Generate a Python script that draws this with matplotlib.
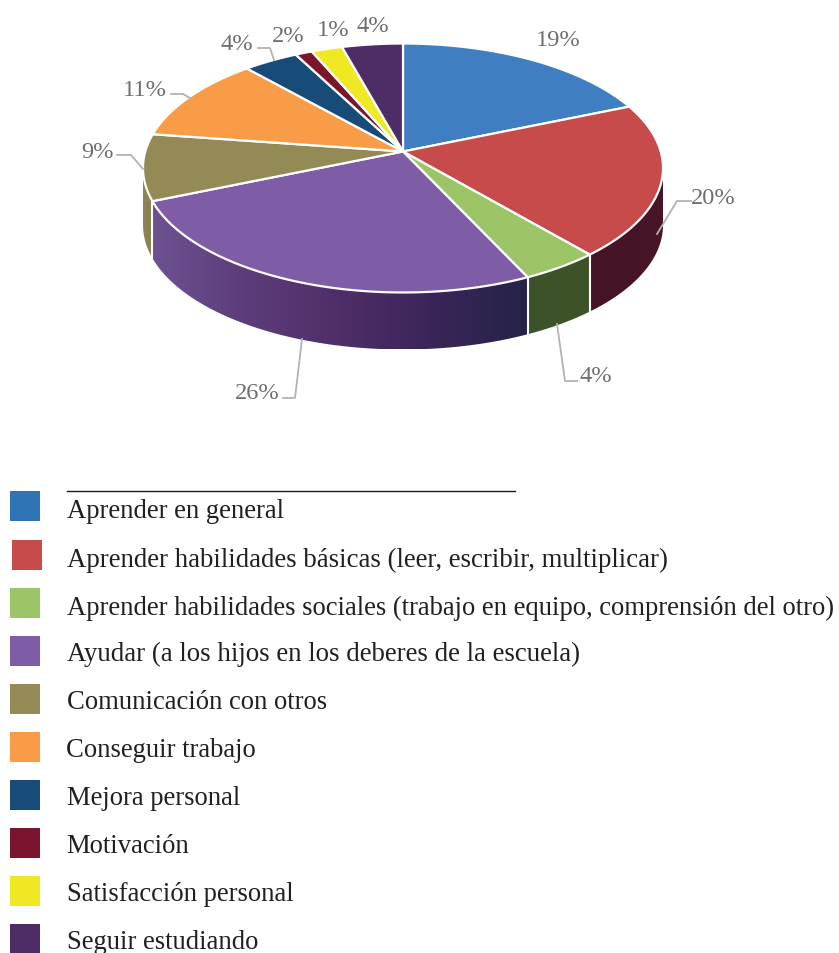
import numpy as np
import matplotlib
matplotlib.use("Agg")
import matplotlib.pyplot as plt
from matplotlib.colors import to_rgb
from matplotlib.patches import Polygon, Rectangle

categories = ["Aprender en general",
              "Aprender habilidades básicas (leer, escribir, multiplicar)",
              "Aprender habilidades sociales (trabajo en equipo, comprensión del otro)",
              "Ayudar (a los hijos en los deberes de la escuela)",
              "Comunicación con otros",
              "Conseguir trabajo",
              "Mejora personal",
              "Motivación",
              "Satisfacción personal",
              "Seguir estudiando"]
shares = [18.7, 20.0, 4.3, 25.7, 8.6, 11.1, 3.9, 1.2, 2.2, 4.3]
pct_labels = ["19%", "20%", "4%", "26%", "9%", "11%", "4%", "2%", "1%", "4%"]
top_colors = ["#3f7fc1", "#c84b4b", "#9bc566", "#7e5ca6", "#948a56",
              "#f99c48", "#174c78", "#7b142f", "#efe823", "#4e2d66"]
legend_colors = ["#2f75b5", "#c84b4b", "#9bc566", "#7e5ca6", "#948a56",
                 "#f99c48", "#174c78", "#7b142f", "#efe823", "#4e2d66"]
side_stops = {1: ["#451428", "#481428"],
              2: ["#3c5228", "#3f5329"],
              3: ["#6e5292", "#5c3c7a", "#4f2d68", "#3a2558", "#252348"],
              4: ["#8e8756", "#85804f"]}
label_pos = [(558, 40), (713, 198), (596, 377), (257, 394), (97, 152),
             (145, 90), (237, 45), (288, 36), (333, 31), (373, 26)]
leaders = [None,
           [(691, 202), (677, 202), (657, 235)],
           [(577, 382), (565, 382), (557, 325)],
           [(283, 399), (295, 399), (302, 340)],
           [(117, 156), (131, 156), (143, 170)],
           [(171, 95), (183, 95), (190, 99)],
           [(258, 49), (270, 49), (274, 61)],
           None, None, None]
legend_y = [492, 541, 589, 637, 685, 733, 781, 829, 877, 925]
legend_sw_x = [10, 12, 10, 10, 10, 10, 10, 10, 10, 10]
legend_tx_x = [67, 67, 67, 67, 67, 66, 67, 66, 67, 67]
legend_base = [518, 567, 615, 661, 709, 757, 805, 853, 901, 949]
legend_size = [19.2, 19.3, 19.2, 19.4, 19.2, 19.2, 19.2, 19.2, 19.2, 19.2]

CX, CY, C, A, K, DEPTH = 403.0, 152.5, 257.7, 122.3, 0.1325, 57.0
FONT = "Liberation Serif"

plt.rcParams["font.family"] = FONT
fig = plt.figure(figsize=(8.39, 9.54), dpi=100)
ax = fig.add_axes([0, 0, 1, 1])
ax.set_xlim(0, 839)
ax.set_ylim(954, 0)
ax.axis("off")


def rim(t):
    """Project the angle (radians clockwise from the top) onto the tilted disc."""
    X, Y = np.sin(t), np.cos(t)
    d = 1 + K * Y
    return CX + C * X / d, CY - A * Y / d


edges = np.cumsum([0] + shares) / sum(shares) * 2 * np.pi

# side wall: a horizontal gradient clipped to the visible wall outline
for i, stops in side_stops.items():
    a, b = edges[i], edges[i + 1]
    ts = np.linspace(a, b, 200)
    x, y = rim(ts)
    if i == 1:
        s = int(np.argmax(x))
        x, y = x[s:], y[s:]
    if i == 4:
        e = int(np.argmin(x)) + 1
        x, y = x[:e], y[:e]
    outline = list(zip(x, y)) + list(zip(x[::-1], y[::-1] + DEPTH))
    poly = Polygon(outline, closed=True, facecolor="none", edgecolor="none",
                   transform=ax.transData)
    ax.add_patch(poly)
    x0, x1 = x.min(), x.max()
    cols = np.array([to_rgb(c) for c in stops])
    pos = np.linspace(0, 1, len(stops))
    f = np.linspace(0, 1, 256)
    grad = np.stack([np.interp(f, pos, cols[:, k]) for k in range(3)], axis=-1)[None, :, :]
    im = ax.imshow(grad, extent=(x0, x1, y.max() + DEPTH, y.min()), aspect="auto",
                   interpolation="bilinear", zorder=2)
    im.set_clip_path(poly)
ax.set_xlim(0, 839)
ax.set_ylim(954, 0)

# white separators between the wall pieces
for t in (edges[2], edges[3], edges[4]):
    px, py = rim(t)
    ax.plot([px, px], [py, py + DEPTH], color="white", lw=1.5, zorder=3)

# top of the disc
for i in range(len(shares)):
    ts = np.linspace(edges[i], edges[i + 1], 80)
    x, y = rim(ts)
    pts = [(CX, CY)] + list(zip(x, y))
    ax.add_patch(Polygon(pts, closed=True, facecolor=top_colors[i], edgecolor="white",
                         lw=1.6, joinstyle="round", zorder=4))

# labels and leaders
for i, lab in enumerate(pct_labels):
    ax.text(*label_pos[i], lab, ha="center", va="center", fontsize=17.6,
            color="#6e6e6e", zorder=6)
    if leaders[i]:
        xs, ys = zip(*leaders[i])
        ax.plot(xs, ys, color="#b2b2b2", lw=1.3, zorder=5)

# legend
ax.plot([67, 515], [491.5, 491.5], color="#1a1a1a", lw=1.0, zorder=5)
for i, name in enumerate(categories):
    ax.add_patch(Rectangle((legend_sw_x[i], legend_y[i]), 29.5, 29.5,
                           facecolor=legend_colors[i], edgecolor="none", zorder=5))
    ax.text(legend_tx_x[i], legend_base[i], name, ha="left", va="baseline",
            fontsize=legend_size[i], color="#231f20", zorder=6)

fig.savefig("out.png", dpi=100)
